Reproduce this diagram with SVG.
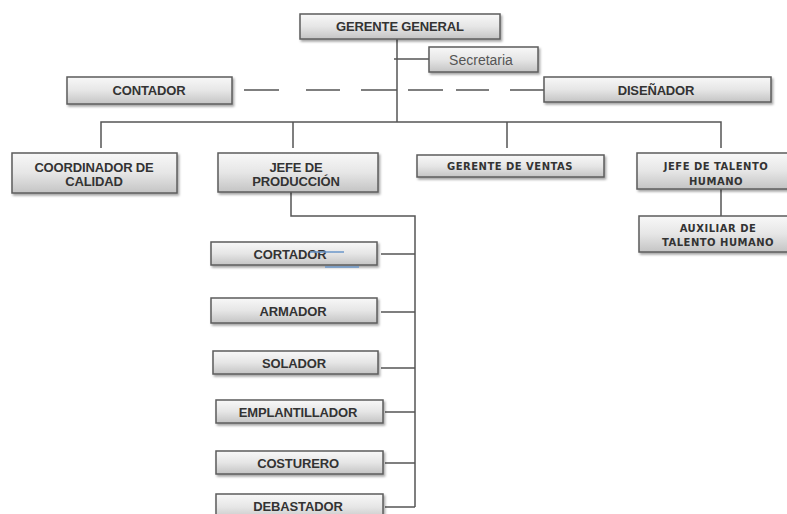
<svg xmlns="http://www.w3.org/2000/svg" width="787" height="514" viewBox="0 0 787 514">
<defs>
<linearGradient id="g" x1="0" y1="0" x2="0" y2="1">
<stop offset="0" stop-color="#f8f8f8"/>
<stop offset="0.5" stop-color="#e6e6e6"/>
<stop offset="1" stop-color="#c4c4c4"/>
</linearGradient>
<filter id="sh" x="-10%" y="-20%" width="120%" height="160%">
<feDropShadow dx="1.5" dy="2" stdDeviation="1.2" flood-color="#000" flood-opacity="0.35"/>
</filter>
</defs>
<style>
.b{fill:url(#g);stroke:#5c5c5c;stroke-width:1.5;filter:url(#sh)}
.t{font-family:"Liberation Sans",Arial,sans-serif;font-weight:bold;font-size:13px;fill:#333;text-anchor:middle;letter-spacing:-0.15px}
.v{font-family:"DejaVu Sans",Verdana,sans-serif;font-weight:bold;font-size:10px;fill:#333;text-anchor:middle;letter-spacing:0.5px}
.s{font-family:"Liberation Sans",Arial,sans-serif;font-size:14px;fill:#555;text-anchor:middle}
.c{stroke:#555;stroke-width:1.5;fill:none}
</style>
<rect width="787" height="514" fill="#fff"/>
<g id="connectors">
<path class="c" d="M397,39 V122 M394,59 H429 M101,148 V122 H721 V148 M293,122 V148 M507,122 V148"/>
<path class="c" d="M244,90 H279 M306,90 H340 M361,90 H397 M408,90 H443 M456,90 H489 M510,90 H544"/>
<path class="c" d="M721,189 V216"/>
<path class="c" d="M291,192 V216 H415 V507 M381,254 H415 M381,312 H415 M381,368 H415 M385,412 H415 M385,463 H415 M385,507 H415"/>
</g>
<g id="gerente-general"><rect class="b" x="300" y="14" width="200" height="25"/><text class="t" x="400" y="31">GERENTE GENERAL</text></g>
<g id="secretaria"><rect class="b" x="429" y="47" width="109" height="25"/><text class="s" x="481" y="64.5">Secretaria</text></g>
<g id="contador"><rect class="b" x="67" y="77" width="165" height="27"/><text class="t" x="149" y="95">CONTADOR</text></g>
<g id="disenador"><rect class="b" x="544" y="77" width="227" height="25"/><text class="t" x="656" y="94.5">DISEÑADOR</text></g>
<g id="coordinador"><rect class="b" x="12" y="153" width="165" height="40"/><text class="t" x="94" y="172">COORDINADOR DE</text><text class="t" x="94" y="186">CALIDAD</text></g>
<g id="jefe-produccion"><rect class="b" x="218" y="153" width="160" height="39"/><text class="t" x="296" y="172">JEFE DE</text><text class="t" x="296" y="186">PRODUCCIÓN</text></g>
<g id="gerente-ventas"><rect class="b" x="417" y="155" width="187" height="22"/><text class="v" x="510" y="170">GERENTE DE VENTAS</text></g>
<g id="jefe-talento"><rect class="b" x="637" y="153" width="158" height="36"/><text class="v" x="716" y="170">JEFE DE TALENTO</text><text class="v" x="716" y="184.5">HUMANO</text></g>
<g id="auxiliar"><rect class="b" x="639" y="216" width="158" height="36"/><text class="v" x="718" y="232">AUXILIAR DE</text><text class="v" x="718" y="246">TALENTO HUMANO</text></g>
<g id="cortador"><rect class="b" x="211" y="242" width="166" height="23"/><text class="t" x="290" y="258.5">CORTADOR</text>
<path d="M310,252 H344 M325,267 H359" stroke="#6b97c9" stroke-width="1.3"/></g>
<g id="armador"><rect class="b" x="211" y="298" width="166" height="25"/><text class="t" x="293" y="315.5">ARMADOR</text></g>
<g id="solador"><rect class="b" x="213" y="351" width="165" height="23"/><text class="t" x="294" y="367.5">SOLADOR</text></g>
<g id="emplantillador"><rect class="b" x="216" y="400" width="167" height="23"/><text class="t" x="298" y="417">EMPLANTILLADOR</text></g>
<g id="costurero"><rect class="b" x="216" y="451" width="167" height="23"/><text class="t" x="298" y="467.5">COSTURERO</text></g>
<g id="debastador"><rect class="b" x="216" y="494" width="167" height="26"/><text class="t" x="298" y="511">DEBASTADOR</text></g>
</svg>
